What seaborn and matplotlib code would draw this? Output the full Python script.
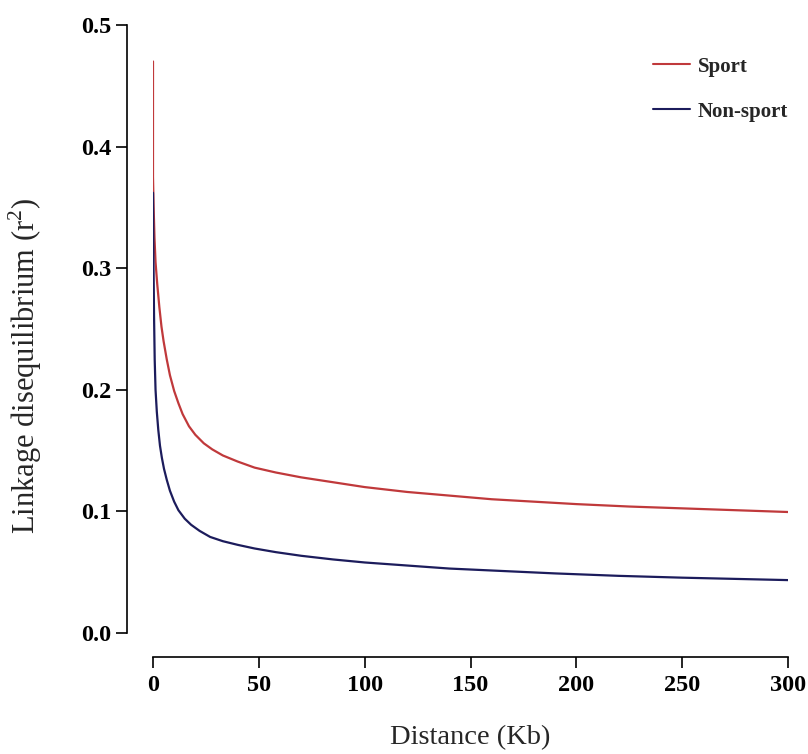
import matplotlib
matplotlib.use("Agg")
import matplotlib.pyplot as plt
import seaborn as sns
import pandas as pd

sport_x = [0, 0, 0.3, 0.7, 1.2, 2, 3, 4, 5, 6.5, 8, 10, 12, 14, 17, 20, 24, 28, 33, 40, 48, 58, 70, 85,
           100, 120, 140, 160, 180, 200, 225, 250, 275, 300]
sport_y = [0.47, 0.375, 0.35, 0.325, 0.305, 0.287, 0.268, 0.252, 0.240, 0.225, 0.212, 0.199, 0.189, 0.180,
           0.170, 0.163, 0.156, 0.151, 0.146, 0.141, 0.136, 0.132, 0.128, 0.124, 0.120, 0.116, 0.113,
           0.110, 0.108, 0.106, 0.104, 0.1025, 0.101, 0.0995]
nonsport_x = [0, 0.2, 0.5, 0.8, 1.2, 1.8, 2.5, 3.3, 4.2, 5.2, 6.5, 8, 10, 12, 15, 18, 22, 27, 33, 40, 48,
              58, 70, 85, 100, 120, 140, 165, 190, 220, 250, 275, 300]
nonsport_y = [0.362, 0.31, 0.26, 0.225, 0.20, 0.182, 0.167, 0.154, 0.144, 0.135, 0.126, 0.117, 0.108,
              0.101, 0.094, 0.089, 0.084, 0.079, 0.0755, 0.0725, 0.0695, 0.0665, 0.0635, 0.0605, 0.058,
              0.0555, 0.053, 0.051, 0.049, 0.047, 0.0455, 0.0445, 0.0435]
x_ticks = [0, 50, 100, 150, 200, 250, 300]
y_ticks = [0.0, 0.1, 0.2, 0.3, 0.4, 0.5]

df = pd.concat([
    pd.DataFrame({"Distance": sport_x, "r2": sport_y, "Group": "Sport"}),
    pd.DataFrame({"Distance": nonsport_x, "r2": nonsport_y, "Group": "Non-sport"}),
], ignore_index=True)

sns.set_theme(style="ticks")
plt.rcParams["font.family"] = ["Liberation Serif", "DejaVu Serif"]
plt.rcParams["mathtext.fontset"] = "custom"
plt.rcParams["mathtext.rm"] = "Liberation Serif"

fig = plt.figure(figsize=(8.08, 7.54), dpi=100)
ax = fig.add_axes([153/808, 121/754, (788-153)/808, (633-25)/754])

sns.lineplot(data=df, x="Distance", y="r2", hue="Group", estimator=None, sort=False,
             palette={"Sport": "#c0393b", "Non-sport": "#1c1c5c"}, linewidth=1.6, ax=ax)

ax.set_xlim(0, 300)
ax.set_ylim(0, 0.5)
ax.set_xticks(x_ticks)
ax.set_yticks(y_ticks)
ax.set_xticklabels([str(t) for t in x_ticks])
ax.set_yticklabels([f"{t:.1f}" for t in y_ticks])
for s in ["top", "right"]:
    ax.spines[s].set_visible(False)
ax.spines["left"].set_position(("outward", 18.7))
ax.spines["bottom"].set_position(("outward", 17.3))
for s in ["left", "bottom"]:
    ax.spines[s].set_color("black")
    ax.spines[s].set_linewidth(1.2)
ax.tick_params(axis="both", length=8, width=1.2, color="black", labelcolor="black", labelsize=17.5)
ax.tick_params(axis="x", pad=5)
ax.tick_params(axis="y", pad=3)
for lab in ax.get_xticklabels() + ax.get_yticklabels():
    lab.set_fontweight("bold")

ax.set_xlabel("Distance (Kb)", fontsize=20.5, labelpad=21)
ax.set_ylabel("Linkage disequilibrium (r$^\\mathrm{2}$)", fontsize=22)
ax.yaxis.set_label_coords(-0.172, 0.439)

leg = ax.legend(loc="upper right", bbox_to_anchor=(1.0, 0.948), frameon=False,
                prop={"weight": "bold", "size": 15, "family": "Liberation Serif"},
                handlelength=1.8, labelspacing=1.2, handletextpad=0.35,
                borderaxespad=0, borderpad=0)
for line in leg.get_lines():
    line.set_linewidth(1.5)

fig.savefig("out.png", dpi=100)
